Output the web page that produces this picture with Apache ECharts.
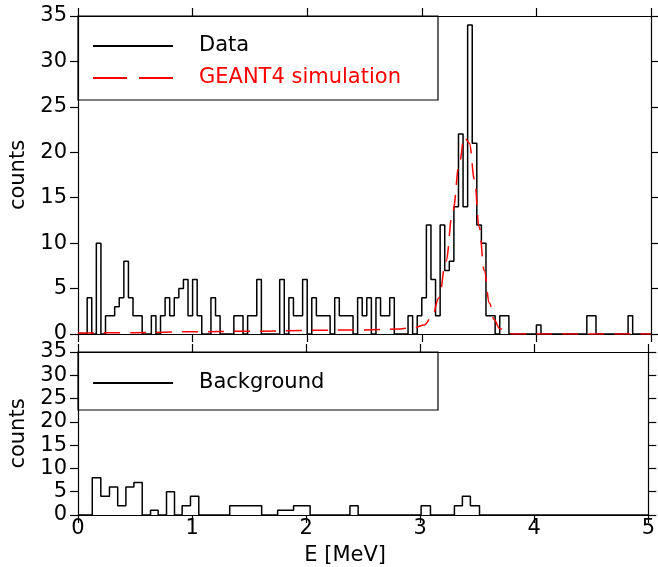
<!DOCTYPE html>
<html>
<head>
<meta charset="utf-8">
<title>Data vs GEANT4 simulation</title>
<script src="https://cdn.jsdelivr.net/npm/echarts@6/dist/echarts.min.js"></script>
<style>
  html, body { margin: 0; padding: 0; background: #fff; }
  #chart { width: 658px; height: 567px; }
</style>
</head>
<body>
<div id="chart"></div>
<script>
// top panel: measured spectrum, 0.04 MeV bins starting at 0
var binStart = 0;
var binWidth = 0.04;
var dataCounts = [
  0, 0, 4, 0, 10, 0, 2, 2, 3, 4,
  8, 4, 2, 2, 0, 0, 2, 0, 2, 4,
  2, 4, 5, 6, 2, 6, 2, 0, 0, 4,
  2, 0, 0, 0, 2, 2, 0, 2, 2, 6,
  0, 0, 0, 0, 6, 0, 4, 2, 2, 6,
  0, 4, 2, 2, 2, 0, 4, 2, 2, 2,
  0, 4, 2, 4, 0, 4, 2, 2, 4, 0,
  0, 0, 2, 0, 2, 4, 12, 6, 2, 12,
  7, 8, 14, 22, 14, 34, 21, 12, 10, 2,
  2, 0, 2, 2, 0, 0, 0, 0, 0, 0,
  1, 0, 0, 0, 0, 0, 0, 0, 0, 0,
  0, 2, 2, 0, 0, 0, 0, 0, 0, 0,
  2, 0, 0, 0, 0
];

// GEANT4 simulation curve
var simE = [0, 0.5, 1.0, 1.5, 2.0, 2.5, 2.8, 2.95, 3.02, 3.09, 3.15, 3.21, 3.27, 3.33,
            3.37, 3.415, 3.46, 3.5, 3.545, 3.59, 3.63, 3.68, 3.74, 3.8, 4.5, 5.0];
var simCounts = [0.1, 0.15, 0.25, 0.3, 0.4, 0.45, 0.55, 0.75, 1.0, 1.9, 4.0, 8.0, 13.5, 19.0,
                 21.7, 21.0, 17.0, 11.8, 7.0, 3.4, 1.6, 0.6, 0.1, 0.0, 0.0, 0.0];

// bottom panel: background, bin edges and counts
var bgEdges = [0, 0.125, 0.20, 0.276, 0.348, 0.42, 0.49, 0.563, 0.636, 0.703, 0.776, 0.846,
               0.913, 0.986, 1.059, 1.33, 1.61, 1.75, 1.89, 2.035, 2.384, 2.456, 3.008,
               3.09, 3.30, 3.37, 3.44, 3.52, 5.0];
var bgCounts = [0, 8, 4, 6, 2, 6, 7, 0, 1, 0, 5, 0, 2, 4, 0, 2, 0, 1, 2, 0, 2, 0, 2, 0, 2, 4, 2, 0];

var eMin = 0, eMax = 5, eStep = 1;
var cMin = 0, cMax = 35, cStep = 5;

// build step-line points
var dataPts = dataCounts.map(function (c, i) { return [binStart + i * binWidth, c]; });
dataPts.push([eMax, 0]);
var simPts = simE.map(function (e, i) { return [e, simCounts[i]]; });
var bgPts = bgCounts.map(function (c, i) { return [bgEdges[i], c]; });
bgPts.push([bgEdges[bgEdges.length - 1], 0]);

var font = 'DejaVu Sans';
var ink = '#000';

function xAx(grid, pos, labels, name) {
  return {
    type: 'value', gridIndex: grid, position: pos,
    min: eMin, max: eMax, interval: eStep,
    axisLine: { show: true, onZero: false, lineStyle: { color: ink, width: 1.2 } },
    axisTick: { show: true, inside: false, length: 8, lineStyle: { color: ink, width: 1.2 } },
    axisLabel: { show: labels, color: ink, fontFamily: font, fontSize: 21, margin: 3 },
    splitLine: { show: false },
    name: name || '', nameLocation: 'middle', nameGap: 30,
    nameTextStyle: { color: ink, fontFamily: font, fontSize: 21, padding: [0, 36, 0, 0] }
  };
}
function yAx(grid, pos, labels, name) {
  return {
    type: 'value', gridIndex: grid, position: pos,
    min: cMin, max: cMax, interval: cStep,
    axisLine: { show: true, onZero: false, lineStyle: { color: ink, width: 1.2 } },
    axisTick: { show: true, inside: false, length: 8, lineStyle: { color: ink, width: 1.2 } },
    axisLabel: { show: labels, color: ink, fontFamily: font, fontSize: 21, margin: 11 },
    splitLine: { show: false },
    name: name || '', nameLocation: 'middle', nameGap: 39, nameRotate: 90,
    nameTextStyle: { color: ink, fontFamily: font, fontSize: 21 }
  };
}

// legend shows only the line, no symbol
var legendItemStyle = { color: 'rgba(0,0,0,0)', borderWidth: 0 };

var chart = echarts.init(document.getElementById('chart'));
chart.setOption({
  animation: false,
  backgroundColor: '#fff',
  grid: [
    { left: 78, top: 16, width: 573, height: 318 },
    { left: 78, top: 352, width: 573, height: 166 }
  ],
  xAxis: [
    xAx(0, 'bottom', false), xAx(0, 'top', false),
    xAx(1, 'bottom', true, 'E [MeV]'), xAx(1, 'top', false)
  ],
  yAxis: [
    yAx(0, 'left', true, 'counts'), yAx(0, 'right', false),
    yAx(1, 'left', true, 'counts'), yAx(1, 'right', false)
  ],
  legend: [
    {
      orient: 'vertical', left: 92, top: 35, padding: 0,
      itemWidth: 80, itemHeight: 14, itemGap: 10,
      itemStyle: legendItemStyle,
      textStyle: { fontFamily: font, fontSize: 21, color: ink, lineHeight: 22, padding: [0, 0, 0, 21] },
      data: [
        { name: 'Data' },
        { name: 'GEANT4 simulation', textStyle: { color: '#ff0000' },
          lineStyle: { type: [34, 12] } }
      ]
    },
    {
      orient: 'vertical', left: 92, top: 372, padding: 0,
      itemWidth: 80, itemHeight: 14,
      itemStyle: legendItemStyle,
      textStyle: { fontFamily: font, fontSize: 21, color: ink, lineHeight: 22, padding: [0, 0, 0, 21] },
      data: [{ name: 'Background' }]
    }
  ],
  graphic: [
    { type: 'rect', shape: { x: 78, y: 16, width: 360, height: 84 },
      style: { fill: null, stroke: ink, lineWidth: 1.2 }, silent: true },
    { type: 'rect', shape: { x: 78, y: 352, width: 360, height: 58 },
      style: { fill: null, stroke: ink, lineWidth: 1.2 }, silent: true }
  ],
  series: [
    {
      name: 'Data', type: 'line', xAxisIndex: 0, yAxisIndex: 0,
      step: 'end', symbol: 'none', data: dataPts,
      lineStyle: { color: ink, width: 1.5 }, itemStyle: { color: ink }, z: 3
    },
    {
      name: 'GEANT4 simulation', type: 'line', xAxisIndex: 0, yAxisIndex: 0,
      smooth: 0.4, smoothMonotone: 'x', symbol: 'none', data: simPts,
      lineStyle: { color: '#ff0000', width: 1.5, type: [16, 10] }, itemStyle: { color: '#ff0000' }, z: 4
    },
    {
      name: 'Background', type: 'line', xAxisIndex: 2, yAxisIndex: 2,
      step: 'end', symbol: 'none', data: bgPts,
      lineStyle: { color: ink, width: 1.5 }, itemStyle: { color: ink }, z: 3
    }
  ]
});
</script>
</body>
</html>
